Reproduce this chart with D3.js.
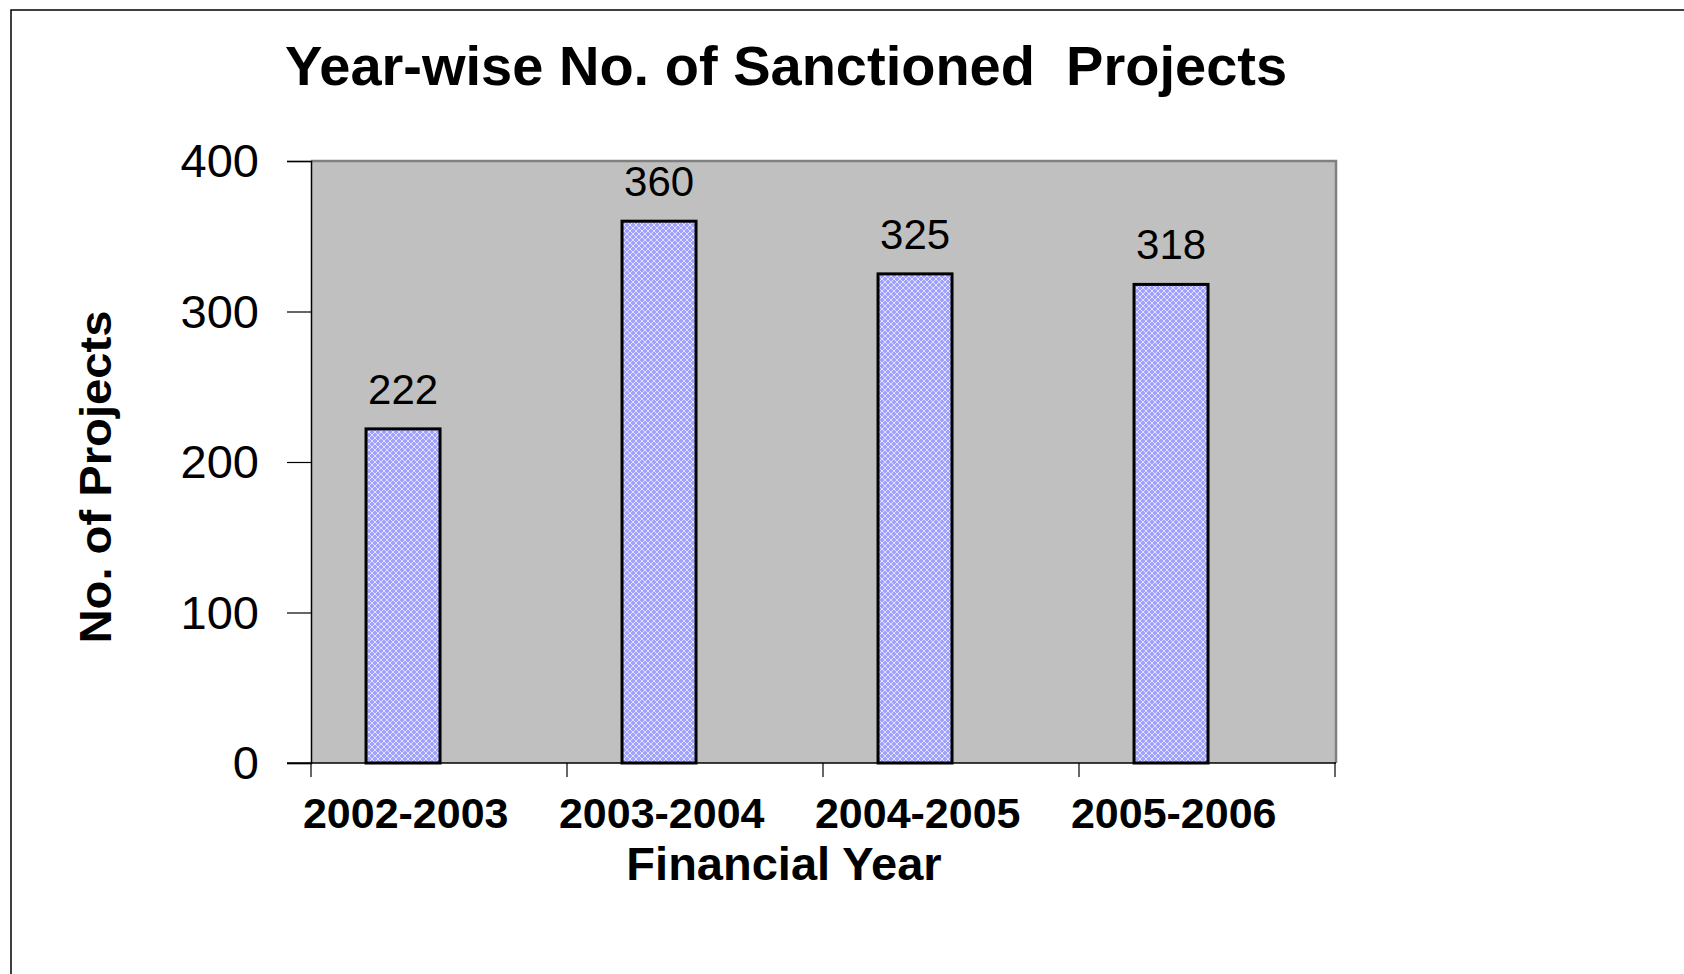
<!DOCTYPE html>
<html>
<head>
<meta charset="utf-8">
<script src="https://cdn.jsdelivr.net/npm/d3@7/dist/d3.min.js"></script>
<style>
  body { margin: 0; background: #fff; }
  text { font-family: Arial, 'Liberation Sans', sans-serif; }
</style>
</head>
<body>
<div id="chart"></div>
<script>
const years = ['2002-2003', '2003-2004', '2004-2005', '2005-2006']
const projects = [222, 360, 325, 318]
const yTicks = [0, 100, 200, 300, 400]

const w = 1684
const h = 974
const plot = { left: 311, right: 1336, top: 161, bottom: 763 }

const data = years.map((year, i) => ({ year, value: projects[i] }))

const svg = d3.select('#chart').append('svg')
  .attr('width', w)
  .attr('height', h)

// crosshatch fill like the old excel pattern
const pat = svg.append('defs').append('pattern')
  .attr('id', 'hatch')
  .attr('width', 6)
  .attr('height', 6)
  .attr('patternUnits', 'userSpaceOnUse')
pat.append('rect').attr('width', 6).attr('height', 6).attr('fill', '#a0a0ff')
pat.append('path')
  .attr('d', 'M0,3 L3,0 L6,3 L3,6 Z')
  .attr('fill', 'none')
  .attr('stroke', '#e0e0ff')
  .attr('stroke-width', 1)

// outer frame
svg.append('rect')
  .attr('x', 11)
  .attr('y', 10)
  .attr('width', w + 20)
  .attr('height', h + 20)
  .attr('fill', 'none')
  .attr('stroke', '#000')
  .attr('stroke-width', 1.5)

const x = d3.scaleBand().domain(years).range([plot.left, plot.right - 1])
const y = d3.scaleLinear().domain([0, 400]).range([plot.bottom, plot.top])

// plot background
svg.append('rect')
  .attr('x', plot.left)
  .attr('y', plot.top)
  .attr('width', plot.right - plot.left)
  .attr('height', plot.bottom - plot.top)
  .attr('fill', '#c0c0c0')
svg.append('path')
  .attr('d', `M${plot.left},${plot.top} H${plot.right} V${plot.bottom}`)
  .attr('fill', 'none')
  .attr('stroke', '#808080')
  .attr('stroke-width', 2.5)

// bars
svg.selectAll('.bar')
  .data(data)
  .enter().append('rect')
  .attr('class', 'bar')
  .attr('x', d => x(d.year) + x.bandwidth() * 0.215)
  .attr('y', d => y(d.value))
  .attr('width', x.bandwidth() * 0.289)
  .attr('height', d => y(0) - y(d.value))
  .attr('fill', 'url(#hatch)')
  .attr('stroke', '#000')
  .attr('stroke-width', 3)

svg.selectAll('.val')
  .data(data)
  .enter().append('text')
  .attr('class', 'val')
  .attr('x', d => x(d.year) + x.bandwidth() * 0.36)
  .attr('y', d => y(d.value) - 25)
  .attr('text-anchor', 'middle')
  .attr('font-size', 42)
  .text(d => d.value)

// y axis
const yAxis = svg.append('g')
  .attr('transform', `translate(${plot.left},0)`)
  .call(d3.axisLeft(y).tickValues(yTicks).tickSize(24).tickPadding(28))
yAxis.select('.domain').attr('stroke', '#000').attr('stroke-width', 1.5)
yAxis.selectAll('.tick line').attr('stroke', '#000').attr('stroke-width', 1.2)
yAxis.selectAll('.tick text')
  .attr('font-size', 47)
  .attr('fill', '#000')
  .style('font-family', 'Arial, "Liberation Sans", sans-serif')
  .attr('dy', '0.34em')

// x axis
const xAxis = svg.append('g')
  .attr('transform', `translate(0,${plot.bottom})`)
  .call(d3.axisBottom(x).tickSize(0).tickFormat(''))
xAxis.select('.domain').attr('stroke', '#000').attr('stroke-width', 1.5)
  .attr('d', `M${plot.left - 24},0 H${plot.right}`)
xAxis.selectAll('.tick').remove()
xAxis.selectAll('.xtick')
  .data(years.concat(['end']))
  .enter().append('line')
  .attr('class', 'xtick')
  .attr('x1', (d, i) => plot.left + i * x.bandwidth())
  .attr('x2', (d, i) => plot.left + i * x.bandwidth())
  .attr('y1', 0)
  .attr('y2', 14)
  .attr('stroke', '#000')
  .attr('stroke-width', 1.2)

svg.selectAll('.xlab')
  .data(years)
  .enter().append('text')
  .attr('class', 'xlab')
  .attr('x', d => x(d) + x.bandwidth() * 0.37)
  .attr('y', 828)
  .attr('text-anchor', 'middle')
  .attr('font-size', 43)
  .attr('font-weight', 'bold')
  .text(d => d)

// titles
svg.append('text')
  .attr('x', 285)
  .attr('y', 85)
  .attr('font-size', 56)
  .attr('font-weight', 'bold')
  .style('white-space', 'pre')
  .text('Year-wise No. of Sanctioned  Projects')

svg.append('text')
  .attr('x', 784)
  .attr('y', 880)
  .attr('text-anchor', 'middle')
  .attr('font-size', 47)
  .attr('font-weight', 'bold')
  .text('Financial Year')

svg.append('text')
  .attr('transform', 'translate(111,477) rotate(-90)')
  .attr('text-anchor', 'middle')
  .attr('font-size', 44)
  .attr('font-weight', 'bold')
  .attr('textLength', 333)
  .attr('lengthAdjust', 'spacingAndGlyphs')
  .text('No. of Projects')
</script>
</body>
</html>
